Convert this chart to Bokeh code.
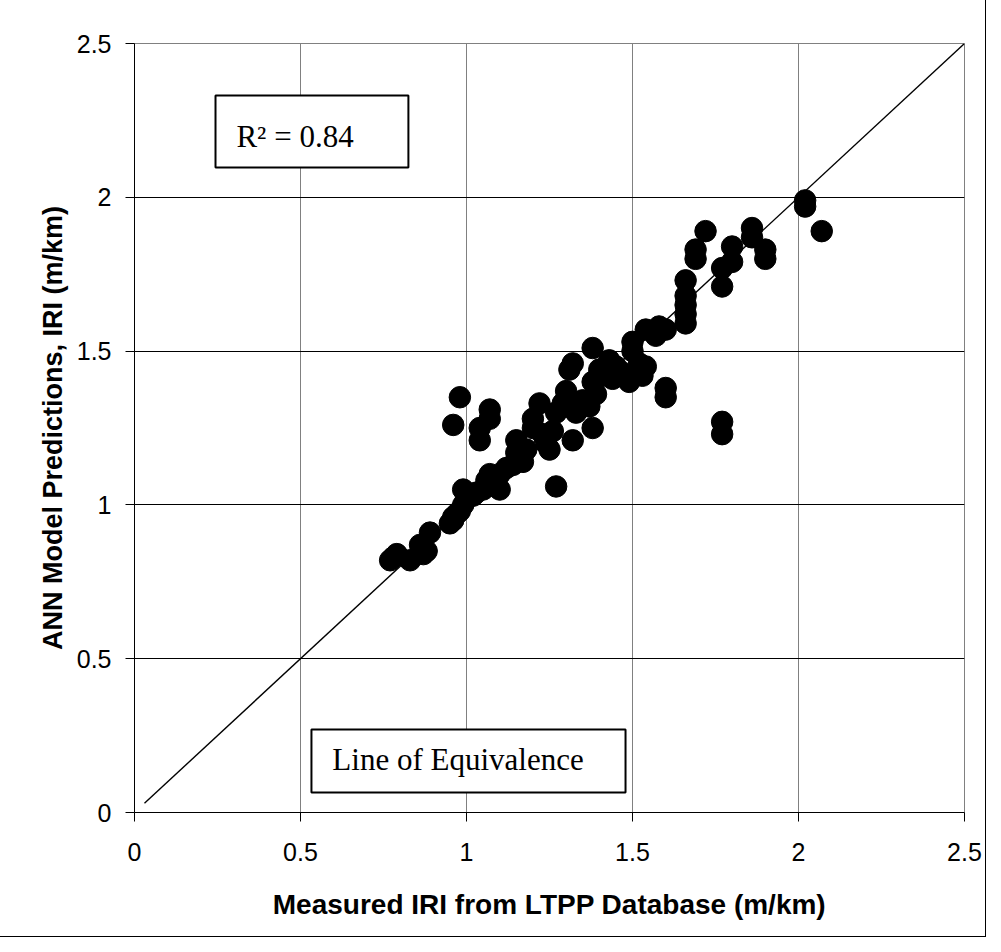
from bokeh.plotting import figure
from bokeh.models import BoxAnnotation, Label, FixedTicker, Range1d
from bokeh.embed import file_html
from bokeh.resources import INLINE

measured = [0.77, 0.78, 0.79, 0.83, 0.86, 0.87, 0.88, 0.89, 0.95, 0.96, 0.96, 0.97, 0.98, 0.99,
            0.99, 1.00, 1.02, 1.03, 1.05, 1.06, 1.07, 1.09, 1.10, 1.10, 1.12, 1.14, 1.15, 1.15,
            1.17, 1.18, 1.20, 1.20, 1.22, 1.23, 1.24, 1.25, 1.26, 1.27, 1.27, 1.29, 1.30, 1.31,
            1.32, 1.32, 1.31, 1.33, 1.35, 1.37, 1.38, 1.38, 1.38, 1.39, 1.40, 1.41, 1.43, 1.44,
            1.45, 1.47, 1.49, 1.50, 1.50, 1.52, 1.53, 1.54, 1.54, 1.57, 1.58, 1.60, 1.60, 1.60,
            1.66, 1.66, 1.66, 1.66, 1.66, 1.69, 1.69, 1.72, 1.77, 1.77, 1.77, 1.77, 1.80, 1.80,
            1.86, 1.86, 1.90, 1.90, 2.02, 2.02, 2.07, 0.98, 0.96, 1.07, 1.07, 1.04, 1.04]
predicted = [0.82, 0.83, 0.84, 0.82, 0.87, 0.84, 0.85, 0.91, 0.94, 0.96, 0.95, 0.97, 0.98, 1.00,
             1.05, 1.02, 1.03, 1.04, 1.05, 1.08, 1.10, 1.06, 1.10, 1.05, 1.12, 1.13, 1.17, 1.21,
             1.14, 1.18, 1.25, 1.28, 1.33, 1.23, 1.20, 1.18, 1.24, 1.06, 1.30, 1.33, 1.37, 1.32,
             1.21, 1.46, 1.44, 1.30, 1.34, 1.32, 1.25, 1.51, 1.40, 1.36, 1.44, 1.42, 1.47, 1.41,
             1.45, 1.43, 1.40, 1.50, 1.53, 1.46, 1.42, 1.45, 1.57, 1.55, 1.58, 1.57, 1.38, 1.35,
             1.65, 1.62, 1.59, 1.73, 1.68, 1.83, 1.80, 1.89, 1.77, 1.71, 1.27, 1.23, 1.84, 1.79,
             1.90, 1.87, 1.83, 1.80, 1.99, 1.97, 1.89, 1.35, 1.26, 1.31, 1.28, 1.25, 1.21]

ticks = [0, 0.5, 1, 1.5, 2, 2.5]
tick_labels = {0: "0", 0.5: "0.5", 1: "1", 1.5: "1.5", 2: "2", 2.5: "2.5"}
r2_text = "R² = 0.84"
line_text = "Line of Equivalence"
x_label = "Measured IRI from LTPP Database (m/km)"
y_label = "ANN Model Predictions, IRI (m/km)"

p = figure(width=985, height=936, output_backend="svg", toolbar_location=None,
           x_range=Range1d(0, 2.5), y_range=Range1d(0, 2.5),
           min_border_left=134, min_border_right=21, min_border_top=43, min_border_bottom=124)
p.styles = {"outline": "1px solid black"}
p.background_fill_color = "white"
p.border_fill_color = "white"
p.outline_line_color = "#808080"
p.outline_line_width = 1

for ax in (p.xaxis[0], p.yaxis[0]):
    ax.ticker = FixedTicker(ticks=ticks)
    ax.major_label_overrides = tick_labels
    ax.minor_tick_line_color = None
    ax.major_tick_in = 0
    ax.major_tick_out = 9
    ax.major_tick_line_color = "black"
    ax.axis_line_color = "black"
    ax.major_label_text_font = "Liberation Sans"
    ax.major_label_text_font_size = "25px"
    ax.major_label_text_color = "black"
    ax.axis_label_text_font = "Liberation Sans"
    ax.axis_label_text_font_style = "bold"
    ax.axis_label_text_color = "black"

p.xaxis.axis_label = x_label
p.yaxis.axis_label = y_label
p.xaxis.axis_label_text_font_size = "28px"
p.yaxis.axis_label_text_font_size = "27px"
p.xaxis.major_label_standoff = 21
p.yaxis.major_label_standoff = 14
p.xaxis.axis_label_standoff = 25
p.yaxis.axis_label_standoff = 6

p.xgrid.ticker = FixedTicker(ticks=ticks)
p.ygrid.ticker = FixedTicker(ticks=ticks)
p.xgrid.grid_line_color = "#808080"
p.ygrid.grid_line_color = "black"
p.xgrid.grid_line_width = 1
p.ygrid.grid_line_width = 1

# line of equivalence
p.line(x=[0.03, 2.5], y=[0.03, 2.5], line_color="black", line_width=1.4)

p.scatter(x=measured, y=predicted, size=21.5, marker="circle",
          fill_color="black", line_color="black")

p.add_layout(BoxAnnotation(left=0.244, right=0.825, bottom=2.097, top=2.331,
                           fill_color="white", fill_alpha=1, line_color="black", line_alpha=1,
                           line_width=2, level="annotation"))
p.add_layout(BoxAnnotation(left=0.533, right=1.479, bottom=0.065, top=0.27,
                           fill_color="white", fill_alpha=1, line_color="black", line_alpha=1,
                           line_width=2, level="annotation"))
p.add_layout(Label(x=0.307, y=2.198, text=r2_text, text_font="Liberation Serif",
                   text_font_size="31px", text_color="black", text_baseline="alphabetic"))
p.add_layout(Label(x=0.596, y=0.172, text=line_text, text_font="Liberation Serif",
                   text_font_size="31px", text_color="black", text_baseline="alphabetic"))

open("out.html", "w").write(file_html(p, INLINE))
